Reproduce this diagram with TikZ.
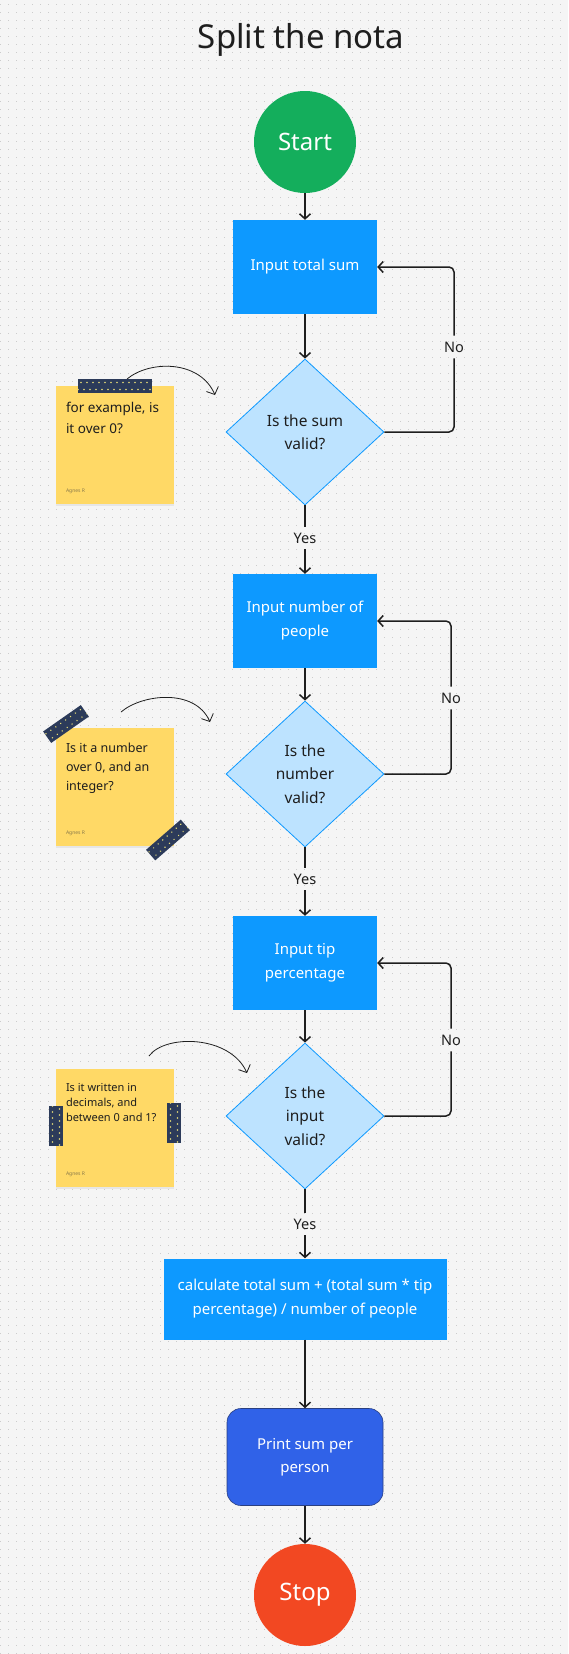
\documentclass[tikz,border=0pt]{standalone}
\usepackage{fontspec}
\setmainfont{Noto Sans}
\usetikzlibrary{shapes.geometric,arrows.meta,calc,shadows}

\definecolor{canvasbg}{HTML}{F5F5F5}
\definecolor{gridpt}{HTML}{CCCCCC}
\definecolor{ink}{HTML}{1E1E1E}
\definecolor{startgreen}{HTML}{14AE5C}
\definecolor{procblue}{HTML}{0D99FF}
\definecolor{decfill}{HTML}{BDE3FF}
\definecolor{printblue}{HTML}{3062E8}
\definecolor{printedge}{HTML}{2A3F80}
\definecolor{stopred}{HTML}{F24822}
\definecolor{stickyyellow}{HTML}{FFD966}
\definecolor{tapeblue}{HTML}{2C3B5A}
\definecolor{tapedot}{HTML}{E6DC78}
\definecolor{signgray}{HTML}{8A7A4A}

\begin{document}
\begin{tikzpicture}[
		x=1pt, y=-1pt,
		font=\fontsize{14.5}{24}\selectfont,
		arr/.style={draw=ink, line width=1.5pt, -{Straight Barb[length=5pt,width=11pt]}},
		link/.style={draw=ink, line width=1.5pt},
		terminal/.style={circle, minimum size=102pt, inner sep=0pt, text=white, font=\fontsize{24}{28}\selectfont},
		process/.style={rectangle, fill=procblue, text=white, minimum width=144pt, minimum height=94pt, align=center, font=\fontsize{15}{24}\selectfont},
		printbox/.style={rectangle, rounded corners=14pt, fill=printblue, draw=printedge, line width=0.6pt, text=white, minimum width=156pt, minimum height=97pt, align=center, font=\fontsize{15}{23}\selectfont},
		decision/.style={diamond, fill=decfill, draw=procblue, line width=0.8pt, minimum width=158pt, minimum height=146pt, inner sep=0pt, align=center, text=ink, font=\fontsize{15.5}{23.5}\selectfont},
		answer/.style={inner sep=6pt, text=ink},
		sticky/.style={rectangle, fill=stickyyellow, minimum size=118pt, inner sep=0pt, drop shadow={shadow xshift=0pt, shadow yshift=-2pt, opacity=0.06, fill=black}},
		notetext/.style={anchor=north west, inner sep=0pt, align=left, text=ink},
		signed/.style={anchor=south west, inner sep=0pt, text=signgray, font=\fontsize{5}{6}\selectfont},
		scribble/.style={draw=ink, line width=0.8pt, -{Straight Barb[length=6pt,width=13pt]}}]
		
		\useasboundingbox (0,0) rectangle (568,1654);
		\fill[canvasbg] (0,0) rectangle (568,1654);
		\foreach \gy in {5,13,...,1653}
			\draw[gridpt, line width=1pt, dash pattern=on 1pt off 7pt] (0,\gy) -- (568,\gy);
		
		\node[font=\fontsize{33}{40}\selectfont, text=ink] (title) at (301,40) {Split the nota};
		
		\node[terminal, fill=startgreen] (start) at (305,142) {Start};
		\node[process] (sum) at (305,267) {Input total sum};
		\node[decision] (sumok) at (305,432) {Is the sum\\valid?};
		\node[answer] (yes1) at (305,538) {Yes};
		\node[answer] (no1) at (454,347) {No};
		
		\node[process] (people) at (305,621) {Input number of\\people};
		\node[decision] (peopleok) at (305,774) {Is the\\number\\valid?};
		\node[answer] (yes2) at (305,879) {Yes};
		\node[answer] (no2) at (451,698) {No};
		
		\node[process] (tip) at (305,963) {Input tip\\percentage};
		\node[decision] (tipok) at (305,1116) {Is the\\input\\valid?};
		\node[answer] (yes3) at (305,1224) {Yes};
		\node[answer] (no3) at (451,1040) {No};
		
		\node[process, minimum width=283pt, minimum height=81pt] (split) at (305,1299) {calculate total sum + (total sum * tip\\percentage) / number of people};
		\node[printbox] (print) at (305,1457) {Print sum per\\person};
		\node[terminal, fill=stopred] (stop) at (305,1595) {Stop};
		
		\draw[arr] (start) -- (sum);
		\draw[arr] (sum) -- (sumok);
		\draw[link] (sumok) -- (yes1);
		\draw[arr] (yes1) -- (people);
		\draw[link, rounded corners=5pt] (sumok.east) -| (no1);
		\draw[arr, rounded corners=5pt] (no1) |- (sum.east);
		
		\draw[arr] (people) -- (peopleok);
		\draw[link] (peopleok) -- (yes2);
		\draw[arr] (yes2) -- (tip);
		\draw[link, rounded corners=5pt] (peopleok.east) -| (no2);
		\draw[arr, rounded corners=5pt] (no2) |- (people.east);
		
		\draw[arr] (tip) -- (tipok);
		\draw[link] (tipok) -- (yes3);
		\draw[arr] (yes3) -- (split);
		\draw[link, rounded corners=5pt] (tipok.east) -| (no3);
		\draw[arr, rounded corners=5pt] (no3) |- (tip.east);
		
		\draw[arr] (split) -- (print);
		\draw[arr] (print) -- (stop);
		
		% sticky notes
		\node[sticky] (note1) at (115,445) {};
		\node[notetext, font=\fontsize{13.5}{21.5}\selectfont] (note1txt) at ($(note1.north west)+(10,16)$) {for example, is\\it over 0?};
		\node[signed] (sign1) at ($(note1.south west)+(10,-10)$) {Agnes R};
		
		\node[sticky] (note2) at (115,786.5) {};
		\node[notetext, font=\fontsize{12.5}{19}\selectfont] (note2txt) at ($(note2.north west)+(10,15)$) {Is it a number\\over 0, and an\\integer?};
		\node[signed] (sign2) at ($(note2.south west)+(10,-10)$) {Agnes R};
		
		\node[sticky] (note3) at (115,1128) {};
		\node[notetext, font=\fontsize{11}{15}\selectfont] (note3txt) at ($(note3.north west)+(10,14)$) {Is it written in\\decimals, and\\between 0 and 1?};
		\node[signed] (sign3) at ($(note3.south west)+(10,-10)$) {Agnes R};
		
		\foreach \cx/\cy/\ang/\len in {115/386/0/74, 66/724/35/46, 168/840/41/46, 56/1126/90/40, 174/1123/90/40}{
			\begin{scope}[shift={(\cx,\cy)}, rotate=\ang]
				\fill[tapeblue] (-\len/2,-7) rectangle (\len/2,7);
				\clip (-\len/2,-7) rectangle (\len/2,7);
				\foreach \px in {-40,-34,...,40}{
					\fill[tapedot] (\px,-3.5) circle (0.8);
					\fill[tapedot] (\px+3,3.5) circle (0.8);
				}
			\end{scope}
		}
		
		\coordinate (hint1) at (127,379);
		\coordinate (aim1) at (215,395);
		\coordinate (hint2) at (121,712);
		\coordinate (aim2) at (210,722);
		\coordinate (hint3) at (149,1056);
		\coordinate (aim3) at (247,1073);
		
		\draw[scribble] (hint1) .. controls (150,360) and (200,360) .. (aim1);
		\draw[scribble] (hint2) .. controls (142,694) and (195,688) .. (aim2);
		\draw[scribble] (hint3) .. controls (165,1034) and (230,1035) .. (aim3);
		
\end{tikzpicture}
\end{document}
